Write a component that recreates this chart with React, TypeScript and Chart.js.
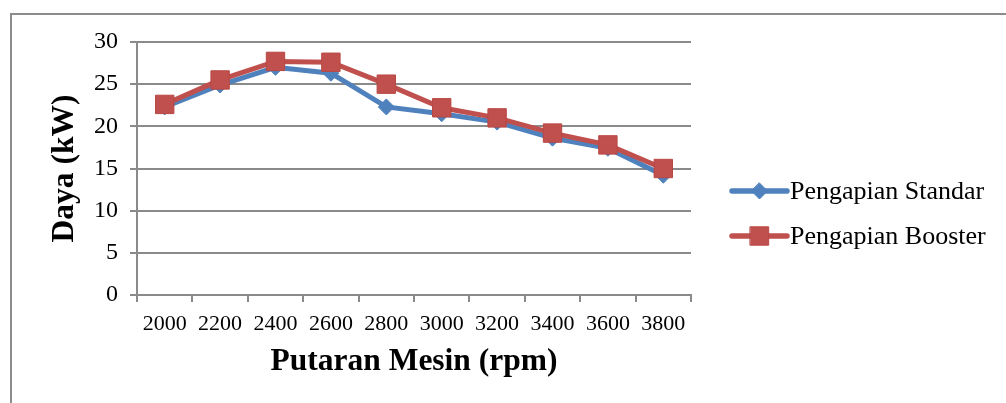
import React, { useEffect, useRef } from "react";
import { Chart, registerables } from "chart.js";

Chart.register(...registerables);

const categories = ["2000", "2200", "2400", "2600", "2800", "3000", "3200", "3400", "3600", "3800"];
const standarValues = [22.3, 24.9, 27.0, 26.3, 22.3, 21.5, 20.5, 18.6, 17.4, 14.2];
const boosterValues = [22.6, 25.5, 27.7, 27.6, 25.0, 22.2, 21.0, 19.2, 17.8, 15.0];
const seriesNames = ["Pengapian Standar", "Pengapian Booster"];
const yMin = 0;
const yMax = 30;
const yStep = 5;

const FONT = "'Liberation Serif', 'Times New Roman', serif";
const GRID = "#8a8a8a";
const BLUE = "#4F81BD";
const RED = "#C0504D";

const framePlugin = {
  id: "frame",
  beforeDraw(chart: any) {
    const { ctx } = chart;
    ctx.save();
    ctx.fillStyle = "#ffffff";
    ctx.fillRect(0, 0, chart.width, chart.height);
    ctx.strokeStyle = "#8c8c8c";
    ctx.lineWidth = 2;
    ctx.strokeRect(11, 14, chart.width + 20, chart.height + 20);
    ctx.restore();
  },
};

const legendPlugin = {
  id: "excelLegend",
  afterDraw(chart: any) {
    const { ctx } = chart;
    const x0 = 732;
    const x1 = 787;
    const rows = [191, 236];
    ctx.save();
    chart.data.datasets.forEach((ds: any, i: number) => {
      const y = rows[i];
      ctx.strokeStyle = ds.borderColor;
      ctx.lineWidth = 5.5;
      ctx.lineCap = "round";
      ctx.beginPath();
      ctx.moveTo(x0, y);
      ctx.lineTo(x1, y);
      ctx.stroke();
      ctx.fillStyle = ds.pointBackgroundColor;
      ctx.strokeStyle = ds.pointBorderColor;
      ctx.lineWidth = 1;
      const cx = (x0 + x1) / 2;
      ctx.beginPath();
      if (ds.pointStyle === "rectRot") {
        const r = ds.pointRadius;
        ctx.moveTo(cx, y - r);
        ctx.lineTo(cx + r, y);
        ctx.lineTo(cx, y + r);
        ctx.lineTo(cx - r, y);
        ctx.closePath();
      } else {
        const h = Math.SQRT1_2 * ds.pointRadius;
        ctx.rect(cx - h, y - h, 2 * h, 2 * h);
      }
      ctx.fill();
      ctx.stroke();
      ctx.fillStyle = "#000";
      ctx.font = `26px ${FONT}`;
      ctx.textBaseline = "middle";
      ctx.textAlign = "left";
      ctx.fillText(ds.label, 790, y + 1);
    });
    ctx.restore();
  },
};

export default function App() {
  const ref = useRef<HTMLCanvasElement | null>(null);

  useEffect(() => {
    if (!ref.current) return;
    const chart = new Chart(ref.current, {
      type: "line",
      data: {
        labels: categories,
        datasets: [
          {
            label: seriesNames[0],
            data: standarValues,
            borderColor: BLUE,
            backgroundColor: BLUE,
            pointBackgroundColor: BLUE,
            pointBorderColor: BLUE,
            pointStyle: "rectRot",
            pointRadius: 8,
            pointBorderWidth: 1,
            borderWidth: 5,
            tension: 0,
            order: 2,
          },
          {
            label: seriesNames[1],
            data: boosterValues,
            borderColor: RED,
            backgroundColor: RED,
            pointBackgroundColor: RED,
            pointBorderColor: "#B94744",
            pointStyle: "rect",
            pointRadius: 13,
            pointBorderWidth: 1,
            borderWidth: 5,
            tension: 0,
            order: 1,
          },
        ] as any,
      },
      options: {
        animation: false,
        responsive: false,
        devicePixelRatio: 1,
        layout: { padding: { left: 0, top: 42, right: 315, bottom: 0 } },
        plugins: {
          legend: { display: false },
          tooltip: { enabled: false },
        },
        scales: {
          x: {
            type: "category",
            offset: true,
            grid: {
              offset: true,
              drawOnChartArea: false,
              drawTicks: true,
              tickLength: 7,
              color: GRID,
              lineWidth: 2,
            },
            border: { display: true, color: GRID, width: 2 },
            ticks: {
              font: { family: FONT, size: 22 },
              color: "#000",
              padding: 9,
              maxRotation: 0,
              autoSkip: false,
            },
            title: {
              display: true,
              text: "Putaran Mesin (rpm)",
              font: { family: FONT, size: 31.5, weight: "bold" },
              color: "#000",
              padding: { top: 0, bottom: 22 },
            },
            afterFit: (s: any) => {
              s.height = 108;
            },
          },
          y: {
            min: yMin,
            max: yMax,
            grid: { color: GRID, lineWidth: 2, tickLength: 7 },
            border: { display: true, color: GRID, width: 2 },
            ticks: {
              stepSize: yStep,
              font: { family: FONT, size: 24 },
              color: "#000",
              padding: 12,
            },
            title: {
              display: true,
              text: "Daya (kW)",
              font: { family: FONT, size: 31.5, weight: "bold" },
              color: "#000",
              padding: { top: 46, bottom: 0 },
            },
            afterFit: (s: any) => {
              s.width = 137;
            },
          },
        },
      } as any,
      plugins: [framePlugin, legendPlugin],
    });
    return () => chart.destroy();
  }, []);

  return (
    <div style={{ position: "fixed", left: 0, top: 0, width: 1006, height: 403, background: "#fff" }}>
      <canvas ref={ref} width={1006} height={403} style={{ display: "block", width: 1006, height: 403 }} />
    </div>
  );
}
